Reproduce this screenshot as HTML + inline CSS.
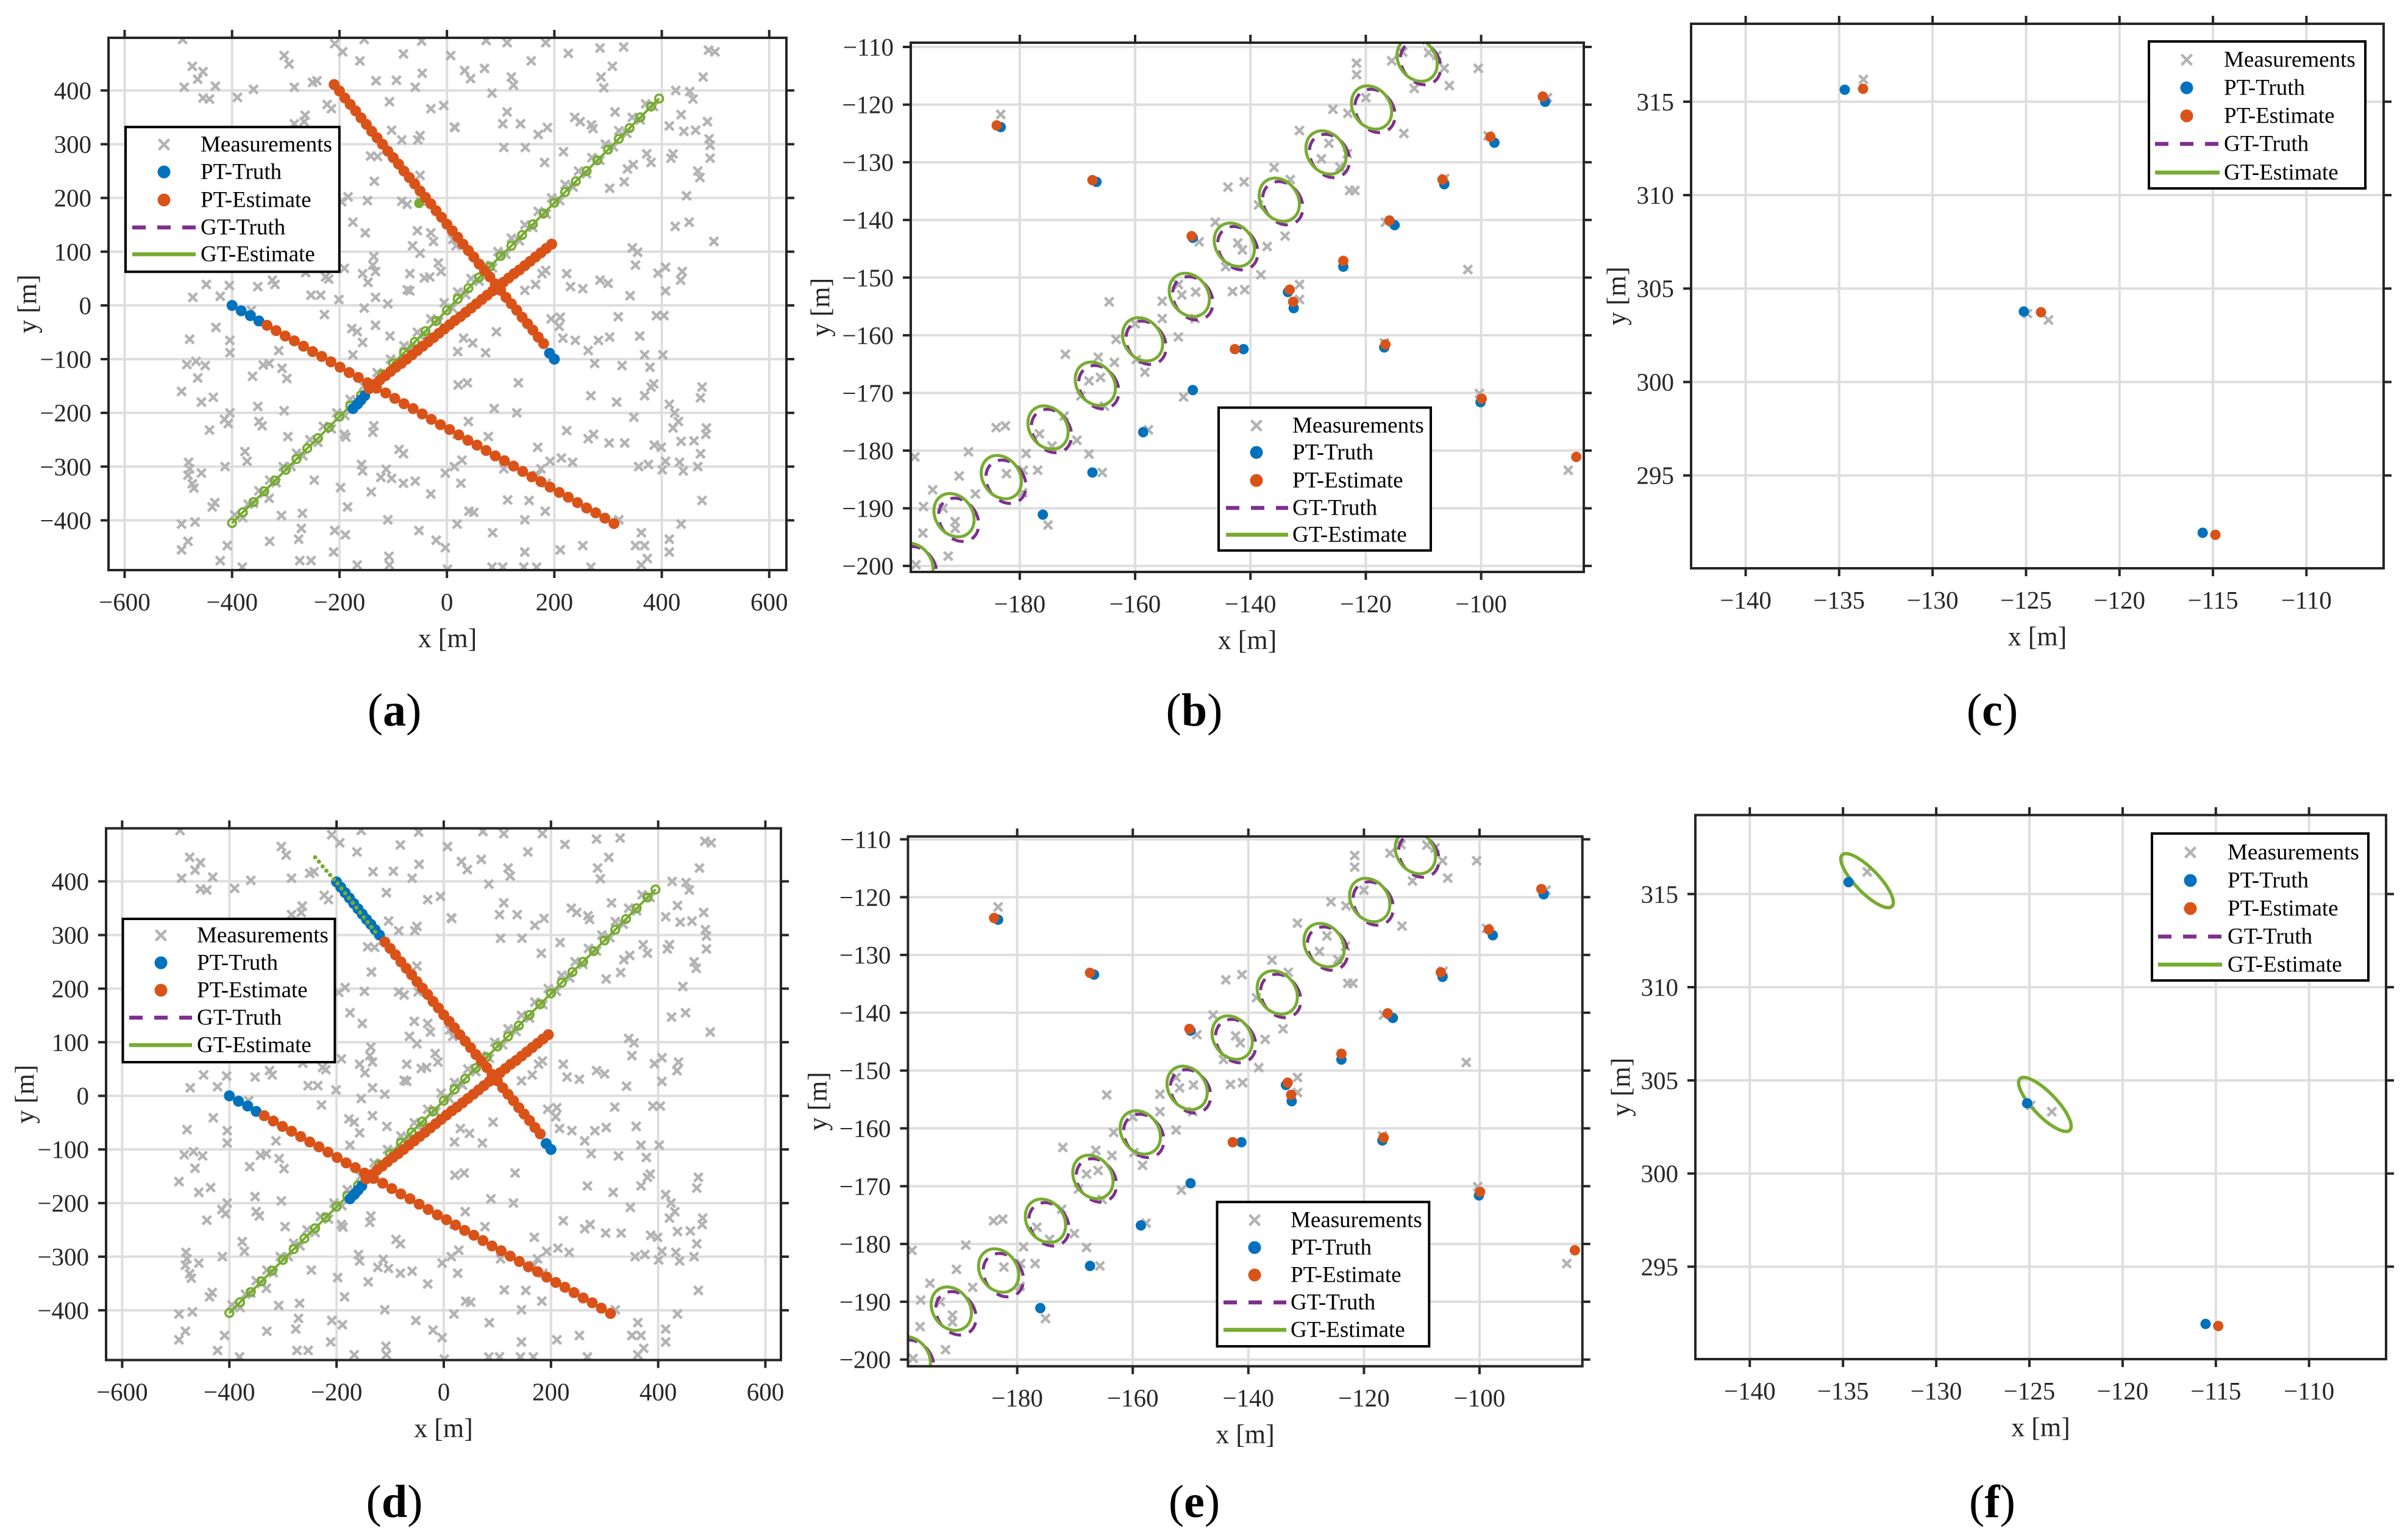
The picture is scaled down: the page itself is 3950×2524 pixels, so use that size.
<!DOCTYPE html>
<html><head><meta charset="utf-8"><title>Tracking results</title>
<style>
html,body{margin:0;padding:0;background:#fff;}
svg{display:block;font-family:"Liberation Serif","DejaVu Serif",serif;}
</style></head>
<body>
<svg id="chart" xmlns="http://www.w3.org/2000/svg" width="3950" height="2524" viewBox="0 0 3950 2524">
<rect x="0" y="0" width="3950" height="2524" fill="#ffffff"/>
<defs id="defs"></defs>
</svg>
<script>
// ---------------- DATA ----------------
const measOverview = [
[-492,495],[-154,495],[-209,487],[-194,472],[-303,465],[-294,449],[-162,455],[-47,492],[-81,468],[7,465],[73,493],[112,489],[184,489],[226,469],[285,479],[329,481],[308,445],[157,455],[120,425],[124,410],[287,425],[292,405],[477,425],[487,475],[499,472],[-474,445],[-454,435],[-464,421],[-489,406],[-454,386],[-442,384],[-431,408],[-390,387],[-360,402],[-284,406],[-250,415],[-242,418],[-215,366],[-223,374],[-107,379],[-132,418],[-94,419],[-59,406],[-46,432],[-6,372],[-30,366],[33,437],[44,422],[70,441],[84,395],[15,331],[104,338],[112,360],[106,294],[137,338],[146,294],[170,318],[187,331],[182,266],[217,286],[238,350],[248,342],[269,336],[272,329],[313,360],[347,262],[372,282],[414,334],[426,400],[452,398],[458,384],[441,324],[463,326],[485,342],[488,310],[490,298],[467,250],[471,238],[490,274],[421,282],[436,355],[417,274],[446,204],[451,155],[425,147],[497,119],[330,230],[303,218],[407,71],[435,47],[438,63],[393,60],[407,27],[341,18],[300,41],[285,47],[223,59],[230,35],[253,31],[345,107],[351,75],[390,-19],[404,-19],[319,-21],[303,-59],[368,-92],[378,-115],[402,-92],[359,-57],[282,-65],[326,-112],[275,-108],[263,-84],[239,-65],[216,-61],[211,-22],[194,-25],[209,-39],[316,-180],[268,-168],[348,-208],[368,-168],[380,-152],[385,-146],[414,-184],[424,-200],[431,-216],[421,-228],[436,-253],[399,-264],[386,-260],[475,-152],[472,-172],[483,-228],[482,-240],[460,-252],[472,-276],[467,-300],[440,-308],[433,-292],[407,-290],[401,-306],[375,-296],[357,-300],[331,-256],[302,-256],[273,-240],[263,-248],[223,-233],[234,-292],[213,-284],[192,-290],[175,-304],[168,-316],[185,-331],[169,-264],[475,-363],[436,-407],[414,-435],[414,-459],[362,-423],[368,-447],[373,-471],[351,-447],[362,-483],[320,-399],[268,-487],[253,-447],[211,-455],[167,-487],[145,-459],[143,-487],[104,-487],[84,-487],[85,-423],[113,-362],[145,-399],[183,-383],[153,-363],[106,-304],[77,-244],[88,-192],[130,-200],[133,-144],[72,-88],[92,-49],[20,-86],[48,-70],[31,-61],[21,-148],[38,-144],[40,-216],[19,-240],[28,-288],[14,-300],[26,-331],[41,-383],[50,-385],[19,-407],[-3,-312],[-3,-451],[-20,-437],[1,-491],[-30,-351],[-52,-419],[-59,-327],[-81,-276],[-89,-268],[-81,-331],[-103,-322],[-113,-305],[-110,-399],[-108,-467],[-107,-483],[-123,-320],[-141,-347],[-138,-236],[-136,-224],[-159,-296],[-157,-308],[-167,-483],[-185,-375],[-189,-427],[-209,-419],[-211,-459],[-191,-240],[-188,-245],[-198,-339],[-247,-325],[-269,-387],[-271,-415],[-276,-435],[-274,-475],[-253,-475],[-296,-244],[-303,-196],[-298,-136],[-307,-117],[-313,-84],[-331,-108],[-342,-111],[-362,-132],[-352,-188],[-344,-224],[-350,-216],[-372,-290],[-376,-272],[-331,-359],[-308,-391],[-330,-439],[-381,-487],[-422,-475],[-409,-447],[-432,-367],[-437,-375],[-413,-300],[-457,-312],[-481,-292],[-479,-304],[-482,-316],[-474,-332],[-471,-340],[-494,-407],[-469,-403],[-494,-455],[-482,-439],[-494,-160],[-457,-180],[-435,-171],[-442,-232],[-414,-212],[-407,-220],[-404,-200],[-464,-135],[-450,-112],[-484,-110],[-467,-104],[-479,-63],[-404,-88],[-404,-65],[-430,-41],[-405,37],[-422,17],[-473,15],[-448,39],[-364,-9],[-352,35],[-325,47],[-320,39],[-263,61],[-253,19],[-235,19],[-226,53],[-220,49],[-201,11],[-228,-17],[-177,-43],[-167,-49],[-175,-92],[-157,-69],[-154,-5],[-133,15],[-133,-37],[-110,3],[-106,-57],[-69,27],[-191,69],[-157,59],[-147,43],[-138,75],[-136,91],[-133,63],[-152,135],[-175,155],[-135,231],[-148,195],[-84,194],[-74,188],[-48,194],[-50,242],[-54,308],[-50,316],[-84,308],[-103,326],[-142,278],[-129,277],[-196,193],[-184,202],[-264,354],[-266,342],[-284,338],[-269,276],[-64,111],[-50,97],[-55,139],[-30,135],[-25,119],[-16,79],[-11,63],[-42,51],[-32,53],[-69,59],[-74,29],[11,123],[17,111],[14,332],[177,59],[184,65],[165,39],[145,28],[336,254],[380,266],[355,99],
[-395,-390],[-380,-395],[-370,-370],[-360,-368],[-350,-345],[-340,-350],[-330,-325],[-318,-330],[-305,-300],[-290,-300],[-280,-275],[-268,-280],[-255,-250],[-240,-255],[-230,-225],[-215,-230],[-205,-200],[-190,-205],[-180,-175],[-165,-180],[-155,-150],[-140,-155],[-130,-125],[-115,-130],[-105,-100],[-90,-105],[-80,-75],[-65,-80],[-55,-50],[-40,-55],[-30,-25],[-15,-30],[-5,5],[10,-5],[20,25],[35,20],[45,50],[60,45],[70,75],[85,70],[95,100],[110,95],[120,125],[135,120],[145,150],[160,145],[170,175],[185,170],[195,200],[210,195],[220,225],[235,220],[245,250],[260,245],[270,275],[285,270],[295,300],[310,295],[320,325],[335,320],[345,350],[360,345],[370,375],[385,370]
];
const est1 = [[-335,-37],[-318,-47],[-301,-57],[-284,-66],[-267,-76],[-250,-86],[-233,-95],[-216,-105],[-199,-115],[-182,-125],[-165,-134],[-148,-144],[-131,-154],[-114,-163],[-97,-173],[-80,-183],[-63,-192],[-46,-202],[-29,-212],[-12,-222],[5,-231],[22,-241],[39,-251],[56,-260],[73,-270],[90,-280],[107,-289],[124,-299],[141,-309],[158,-319],[175,-328],[192,-338],[209,-348],[226,-357],[243,-367],[260,-377],[277,-386],[294,-396],[311,-406]];
const tru1 = [[-400,0],[-383,-10],[-366,-19],[-350,-29]];
const est2 = [[-210,411],[-200,399],[-190,386],[-180,374],[-170,362],[-160,349],[-150,337],[-140,324],[-130,312],[-120,300],[-110,287],[-100,275],[-90,263],[-80,250],[-70,238],[-60,226],[-50,213],[-40,201],[-30,189],[-20,176],[-10,164],[0,151],[10,139],[20,127],[30,114],[40,102],[50,90],[60,77],[70,65],[80,53],[90,40],[100,28],[110,15],[120,3],[130,-9],[140,-22],[150,-34],[160,-46],[170,-59],[180,-71]];
const tru2 = [[191,-89],[200,-100]];
const tru2Late = [[-200,399],[-192,389],[-184,379],[-176,369],[-168,359],[-160,349],[-152,339],[-144,329],[-136,320],[-128,310],[-120,300]];
const gt2Late = [[-240,445],[-233,437],[-226,428],[-219,420],[-212,412],[-205,404],[-198,396],[-191,387],[-184,378],[-177,369],[-170,360],[-163,351],[-156,342],[-149,333],[-142,324],[-135,315],[-128,306]];
const est3 = [[-145,-155],[-135,-147],[-125,-139],[-115,-131],[-105,-123],[-95,-115],[-85,-108],[-75,-100],[-65,-92],[-55,-84],[-45,-76],[-35,-68],[-25,-60],[-15,-52],[-5,-44],[5,-36],[15,-28],[25,-21],[35,-13],[45,-5],[55,3],[65,11],[75,19],[85,27],[95,35],[105,43],[115,51],[125,59],[135,66],[145,74],[155,82],[165,90],[175,98],[185,106],[195,114]];
const tru3 = [[-175,-192],[-167,-184],[-160,-176],[-153,-168]];
const gtTrack = [[-400,-405],[-380,-385],[-360,-366],[-340,-346],[-320,-326],[-300,-306],[-280,-286],[-260,-266],[-240,-247],[-220,-227],[-200,-207],[-180,-187],[-160,-167],[-140,-148],[-120,-128],[-100,-108],[-80,-88],[-60,-68],[-40,-48],[-20,-29],[0,-9],[20,12],[40,32],[60,52],[80,72],[100,92],[120,111],[140,131],[160,151],[180,171],[200,191],[220,211],[240,231],[260,250],[280,270],[300,290],[320,310],[340,330],[360,350],[380,370],[395,385]];
const gtExtra = [[-52,190]];

const zoomMeas = [[-183.3,-121.7],[-100.5,-113.7],[-102.3,-148.6],[-84.9,-183.4],[-148.9,-143.8],[-143.9,-134.3],[-141.1,-133.4],[-135.9,-130.9],[-133.1,-133.0],[-131.5,-124.5],[-125.7,-120.8],[-123.1,-121.5],[-121.6,-112.8],[-121.6,-114.8],[-115.5,-112.4],[-113.4,-125.0],[-111.6,-117.2],[-106.4,-113.7],[-105.5,-116.7],[-122.8,-134.9],[-121.9,-134.9],[-126.4,-126.7],[-127.7,-129.4],[-124.5,-130.8],[-123.2,-128.5],[-120.0,-118.8],[-134.0,-142.8],[-137.1,-144.6],[-138.2,-149.5],[-141.0,-152.1],[-143.1,-152.4],[-144.3,-148.1],[-142.2,-144.0],[-141.4,-145.2],[-146.1,-140.4],[-131.5,-151.2],[-131.5,-153.8],[-138.6,-137.4],[-152.5,-151.2],[-151.9,-153.0],[-149.5,-152.5],[-149.6,-157.1],[-155.3,-154.1],[-155.3,-157.1],[-152.5,-160.3],[-164.5,-154.2],[-160.0,-158.0],[-159.8,-164.2],[-158.3,-166.4],[-163.3,-160.7],[-163.6,-164.7],[-166.0,-167.3],[-166.4,-163.8],[-168.0,-167.9],[-165.3,-172.3],[-169.4,-170.5],[-172.1,-163.3],[-172.3,-174.0],[-170.1,-178.2],[-168.0,-180.6],[-176.6,-177.1],[-174.4,-179.2],[-178.9,-180.5],[-179.4,-183.4],[-176.9,-183.4],[-179.5,-187.3],[-182.3,-184.0],[-184.1,-176.0],[-182.5,-175.7],[-188.9,-180.2],[-187.7,-187.5],[-190.5,-184.4],[-193.3,-190.0],[-195.1,-186.8],[-196.7,-189.7],[-196.8,-194.3],[-191.2,-192.3],[-191.2,-193.5],[-192.4,-198.3],[-198.2,-181.1],[-198.0,-199.8],[-175.1,-192.9],[-165.7,-183.8],[-157.7,-176.4],[-151.6,-170.7],[-116.6,-140.4],[-116.8,-161.3],[-106.3,-132.8],[-98.8,-125.4],[-88.5,-118.8],[-100.3,-170.1],[-109.1,-111.0],[-107.7,-111.5],[-113.6,-110.9]];
const zoomTruth = [[-183.3,-123.9],[-166.7,-133.4],[-150.0,-143.1],[-141.2,-162.4],[-150.0,-169.5],[-158.6,-176.8],[-167.4,-183.8],[-176.0,-191.1],[-133.5,-152.5],[-132.5,-155.3],[-123.9,-148.1],[-115.0,-140.9],[-116.8,-162.1],[-106.4,-133.8],[-97.7,-126.6],[-88.9,-119.5],[-100.1,-171.6]];
const zoomEst = [[-184.0,-123.6],[-167.4,-133.1],[-150.2,-142.8],[-142.7,-162.4],[-133.2,-152.1],[-132.6,-154.2],[-123.9,-147.1],[-115.9,-140.1],[-116.6,-161.6],[-106.7,-133.0],[-98.4,-125.6],[-89.3,-118.6],[-99.9,-171.0],[-83.5,-181.1]];
const zoomEllEst = [[-111.1,-112.2],[-119.0,-120.5],[-126.9,-128.3],[-135.0,-136.5],[-142.8,-144.3],[-150.6,-153.0],[-158.7,-160.7],[-166.9,-168.4],[-175.1,-176.0],[-183.2,-184.6],[-191.4,-191.2],[-198.5,-199.8]];
const zoomEllTruth = [[-110.5,-112.8],[-118.4,-121.1],[-126.3,-128.9],[-134.4,-137.1],[-142.2,-144.9],[-150.0,-153.6],[-158.1,-161.3],[-166.3,-169.0],[-174.5,-176.6],[-182.4,-185.4],[-190.6,-192.0],[-197.9,-200.4]];
const zoomEllSize = [3.2, 4.0];

const farMeas = [[-133.70,316.19],[-124.93,303.66],[-123.80,303.32]];
const farTruth = [[-134.70,315.64],[-125.12,303.77],[-115.55,291.93]];
const farEst = [[-133.72,315.69],[-124.20,303.73],[-114.87,291.82]];
const farEstF = [[-114.87,291.82]];
const farEll = [[-133.71,315.72],[-124.17,303.71]];
const farEllSize = [1.92, 0.63];

const ticksOverX = [-600,-400,-200,0,200,400,600];
const ticksOverY = [-400,-300,-200,-100,0,100,200,300,400];
const ticksZoomX = [-180,-160,-140,-120,-100];
const ticksZoomY = [-200,-190,-180,-170,-160,-150,-140,-130,-120,-110];
const ticksFarX = [-140,-135,-130,-125,-120,-115,-110];
const ticksFarY = [295,300,305,310,315];

// ---------------- RENDERING ----------------
const NS = 'http://www.w3.org/2000/svg';
const svg = document.getElementById('chart');
const defs = document.getElementById('defs');
const C = {blue:'#0072BD', orange:'#D95319', purple:'#7E2F8E', green:'#77AC30', gray:'#b3b3b3', axis:'#262626', grid:'#dedede'};

function mk(tag, attrs, parent) {
  const e = document.createElementNS(NS, tag);
  for (const k in attrs) e.setAttribute(k, attrs[k]);
  (parent || svg).appendChild(e);
  return e;
}
function fmt(v) { return v < 0 ? '\u2212' + Math.abs(v) : String(v); }

const panels = [
  {id:'a', L:178, R:1290, T:62, B:935, x0:-630, x1:632, y0:-492.6, y1:498, xt:ticksOverX, yt:ticksOverY, kind:'over', late:false, cap:647, capY:1165,
   leg:{L:206, R:556.7, T:208.3, B:445.7, rows:[237,282,328,373,417], mx:269, l0:217, l1:321, tx:329}},
  {id:'b', L:1494, R:2598, T:70, B:938, x0:-198.9, x1:-82.2, y0:-201.04, y1:-109.26, xt:ticksZoomX, yt:ticksZoomY, kind:'zoom', cap:1959, capY:1165,
   leg:{L:1999, R:2347, T:668.5, B:902.8, rows:[698,742,788,833,877], mx:2061, l0:2011, l1:2113, tx:2120}},
  {id:'c', L:2774, R:3910, T:39, B:932, x0:-142.92, x1:-105.87, y0:290.03, y1:319.17, xt:ticksFarX, yt:ticksFarY, kind:'far', ell:false, cap:3268, capY:1165,
   leg:{L:3525, R:3880, T:68, B:309, rows:[98,144,190,236,283], mx:3587, l0:3535, l1:3641, tx:3648}},
  {id:'d', L:174, R:1281, T:1358.5, B:2230.5, x0:-630, x1:629, y0:-492.8, y1:499, xt:ticksOverX, yt:ticksOverY, kind:'over', late:true, cap:647, capY:2463,
   leg:{L:201.5, R:549.3, T:1507, B:1742, rows:[1534,1579,1624,1669,1714], mx:264, l0:212, l1:315, tx:323}},
  {id:'e', L:1489.4, R:2595.7, T:1371.8, B:2240.7, x0:-198.9, x1:-82.2, y0:-201.16, y1:-109.5, xt:ticksZoomX, yt:ticksZoomY, kind:'zoom', cap:1959, capY:2463,
   leg:{L:1996.5, R:2344.3, T:1971.3, B:2208, rows:[2001,2046,2091,2136,2181], mx:2058, l0:2007, l1:2110, tx:2117}},
  {id:'f', L:2781, R:3914, T:1336.7, B:2229, x0:-142.92, x1:-105.87, y0:290.04, y1:319.24, xt:ticksFarX, yt:ticksFarY, kind:'far', ell:true, cap:3268, capY:2463,
   leg:{L:3530, R:3885, T:1367, B:1608, rows:[1398,1444,1490,1536,1582], mx:3593, l0:3540, l1:3645, tx:3654}}
];

function drawX(g, px, py, h, name) {
  const p = mk('path', {d:`M${px-h},${py-h}L${px+h},${py+h}M${px-h},${py+h}L${px+h},${py-h}`, stroke:C.gray, 'stroke-width':4.5, fill:'none'}, g);
  
  
  return p;
}
function dot(g, px, py, r, col, name) {
  const c = mk('circle', {cx:px, cy:py, r:r, fill:col}, g);
  
  
  return c;
}

panels.forEach(P => {
  const sx = v => P.L + (v - P.x0) / (P.x1 - P.x0) * (P.R - P.L);
  const sy = v => P.B - (v - P.y0) / (P.y1 - P.y0) * (P.B - P.T);
  const G = mk('g', {});
  
  

  const cp = mk('clipPath', {id:'clip-' + P.id}, defs);
  mk('rect', {x:P.L, y:P.T, width:P.R - P.L, height:P.B - P.T}, cp);

  const grid = mk('g', {stroke:C.grid, 'stroke-width':4}, G);
  
  
  P.xt.forEach(t => {
    const l = mk('line', {x1:sx(t), x2:sx(t), y1:P.T, y2:P.B}, grid);
    
    
  });
  P.yt.forEach(t => {
    const l = mk('line', {x1:P.L, x2:P.R, y1:sy(t), y2:sy(t)}, grid);
    
    
  });

  const plot = mk('g', {'clip-path':'url(#clip-' + P.id + ')'}, G);
  
  

  if (P.kind === 'over') {
    measOverview.forEach(m => drawX(plot, sx(m[0]), sy(m[1]), 7, 'measurement'));
    const gl = mk('polyline', {points:gtTrack.map(p => sx(p[0]) + ',' + sy(p[1])).join(' '), fill:'none', stroke:C.purple, 'stroke-width':3, 'stroke-dasharray':'14 10'}, plot);
    
    
    const ge = mk('polyline', {points:gtTrack.map(p => sx(p[0]) + ',' + sy(p[1])).join(' '), fill:'none', stroke:C.green, 'stroke-width':4}, plot);
    
    
    gtTrack.forEach(p => {
      const e = mk('circle', {cx:sx(p[0]), cy:sy(p[1]), r:6.5, fill:'none', stroke:C.green, 'stroke-width':3.5}, plot);
      
      
    });
    if (!P.late) gtExtra.forEach(p => dot(plot, sx(p[0]), sy(p[1]), 8, C.green, 'gt-estimate-point'));
    tru1.forEach(p => dot(plot, sx(p[0]), sy(p[1]), 9, C.blue, 'pt-truth-1'));
    tru3.forEach(p => dot(plot, sx(p[0]), sy(p[1]), 9, C.blue, 'pt-truth-3'));
    tru2.forEach(p => dot(plot, sx(p[0]), sy(p[1]), 9, C.blue, 'pt-truth-2'));
    if (P.late) {
      tru2Late.forEach(p => dot(plot, sx(p[0]), sy(p[1]), 9, C.blue, 'pt-truth-2'));
      gt2Late.forEach(p => dot(plot, sx(p[0]), sy(p[1]), 3.5, C.green, 'gt-estimate-point'));
    }
    est1.forEach(p => dot(plot, sx(p[0]), sy(p[1]), 9, C.orange, 'pt-estimate-1'));
    (P.late ? est2.filter(p => p[0] >= -115) : est2).forEach(p => dot(plot, sx(p[0]), sy(p[1]), 9, C.orange, 'pt-estimate-2'));
    est3.forEach(p => dot(plot, sx(p[0]), sy(p[1]), 9, C.orange, 'pt-estimate-3'));
  } else if (P.kind === 'zoom') {
    zoomMeas.forEach(m => drawX(plot, sx(m[0]), sy(m[1]), 7, 'measurement'));
    const kx = (P.R - P.L) / (P.x1 - P.x0), ky = (P.B - P.T) / (P.y1 - P.y0);
    zoomEllTruth.forEach(p => {
      const e = mk('ellipse', {cx:sx(p[0]), cy:sy(p[1]), rx:zoomEllSize[0] * kx, ry:zoomEllSize[1] * ky, transform:`rotate(-35 ${sx(p[0])} ${sy(p[1])})`, fill:'none', stroke:C.purple, 'stroke-width':5, 'stroke-dasharray':'20 14'}, plot);
      
      
    });
    zoomEllEst.forEach(p => {
      const e = mk('ellipse', {cx:sx(p[0]), cy:sy(p[1]), rx:zoomEllSize[0] * kx, ry:zoomEllSize[1] * ky, transform:`rotate(-35 ${sx(p[0])} ${sy(p[1])})`, fill:'none', stroke:C.green, 'stroke-width':5}, plot);
      
      
    });
    zoomTruth.forEach(p => dot(plot, sx(p[0]), sy(p[1]), 8.5, C.blue, 'pt-truth'));
    zoomEst.forEach(p => dot(plot, sx(p[0]), sy(p[1]), 8.5, C.orange, 'pt-estimate'));
  } else {
    farMeas.forEach(m => drawX(plot, sx(m[0]), sy(m[1]), 7, 'measurement'));
    const kx = (P.R - P.L) / (P.x1 - P.x0);
    if (P.ell) {
      farEll.forEach(p => {
        const e = mk('ellipse', {cx:sx(p[0]), cy:sy(p[1]), rx:farEllSize[0] * kx, ry:farEllSize[1] * kx, transform:`rotate(46 ${sx(p[0])} ${sy(p[1])})`, fill:'none', stroke:C.green, 'stroke-width':5.5}, plot);
        
        
      });
    }
    farTruth.forEach(p => dot(plot, sx(p[0]), sy(p[1]), 8.5, C.blue, 'pt-truth'));
    (P.ell ? farEstF : farEst).forEach(p => dot(plot, sx(p[0]), sy(p[1]), 8.5, C.orange, 'pt-estimate'));
  }

  const ax = mk('g', {stroke:C.axis, 'stroke-width':4, fill:'none'}, G);
  
  
  const box = mk('rect', {x:P.L, y:P.T, width:P.R - P.L, height:P.B - P.T}, ax);
  
  
  P.xt.forEach(t => {
    const a = mk('path', {d:`M${sx(t)},${P.B}v13M${sx(t)},${P.T}v-13`}, ax);
    
    
  });
  P.yt.forEach(t => {
    const a = mk('path', {d:`M${P.L},${sy(t)}h-13M${P.R},${sy(t)}h13`}, ax);
    
    
  });

  P.xt.forEach(t => {
    const tx = mk('text', {x:sx(t), y:P.B + 52, 'text-anchor':'middle', 'dominant-baseline':'central', 'font-size':41, fill:C.axis}, G);
    tx.textContent = fmt(t);
    
    
  });
  P.yt.forEach(t => {
    const tx = mk('text', {x:P.L - 28, y:sy(t), 'text-anchor':'end', 'dominant-baseline':'central', 'font-size':41, fill:C.axis}, G);
    tx.textContent = fmt(t);
    
    
  });
  const xl = mk('text', {x:(P.L + P.R) / 2, y:P.B + 112, 'text-anchor':'middle', 'dominant-baseline':'central', 'font-size':44, fill:C.axis}, G);
  xl.textContent = 'x [m]';
  
  
  const ylx = P.kind === 'over' ? P.L - 133 : (P.kind === 'zoom' ? P.L - 148 : P.L - 122);
  const ylc = (P.T + P.B) / 2;
  const yl = mk('text', {x:ylx, y:ylc, 'text-anchor':'middle', 'dominant-baseline':'central', 'font-size':44, fill:C.axis, transform:`rotate(-90 ${ylx} ${ylc})`}, G);
  yl.textContent = 'y [m]';
  
  

  const Lg = P.leg;
  const lg = mk('g', {}, G);
  
  
  const lb = mk('rect', {x:Lg.L, y:Lg.T, width:Lg.R - Lg.L, height:Lg.B - Lg.T, fill:'#fff', stroke:'#000', 'stroke-width':4}, lg);
  
  
  drawX(lg, Lg.mx, Lg.rows[0], 8.5, 'legend-measurements-marker');
  dot(lg, Lg.mx, Lg.rows[1], 10.5, C.blue, 'legend-pt-truth-marker');
  dot(lg, Lg.mx, Lg.rows[2], 10.5, C.orange, 'legend-pt-estimate-marker');
  const ld = mk('line', {x1:Lg.l0, x2:Lg.l1, y1:Lg.rows[3], y2:Lg.rows[3], stroke:C.purple, 'stroke-width':6.5, 'stroke-dasharray':'22 19'}, lg);
  
  
  const ls = mk('line', {x1:Lg.l0, x2:Lg.l1, y1:Lg.rows[4], y2:Lg.rows[4], stroke:C.green, 'stroke-width':6.5}, lg);
  
  
  ['Measurements','PT-Truth','PT-Estimate','GT-Truth','GT-Estimate'].forEach((s, i) => {
    const t = mk('text', {x:Lg.tx, y:Lg.rows[i], 'dominant-baseline':'central', 'font-size':37, fill:'#000'}, lg);
    t.textContent = s;
    
    
  });

  const cap = mk('text', {x:P.cap, y:P.capY, 'text-anchor':'middle', 'dominant-baseline':'central', 'font-size':76, fill:'#000'}, svg);
  
  
  const t1 = mk('tspan', {}, cap); t1.textContent = '(';
  const t2 = mk('tspan', {'font-weight':'bold'}, cap); t2.textContent = P.id;
  const t3 = mk('tspan', {}, cap); t3.textContent = ')';
});
</script>
</body></html>
